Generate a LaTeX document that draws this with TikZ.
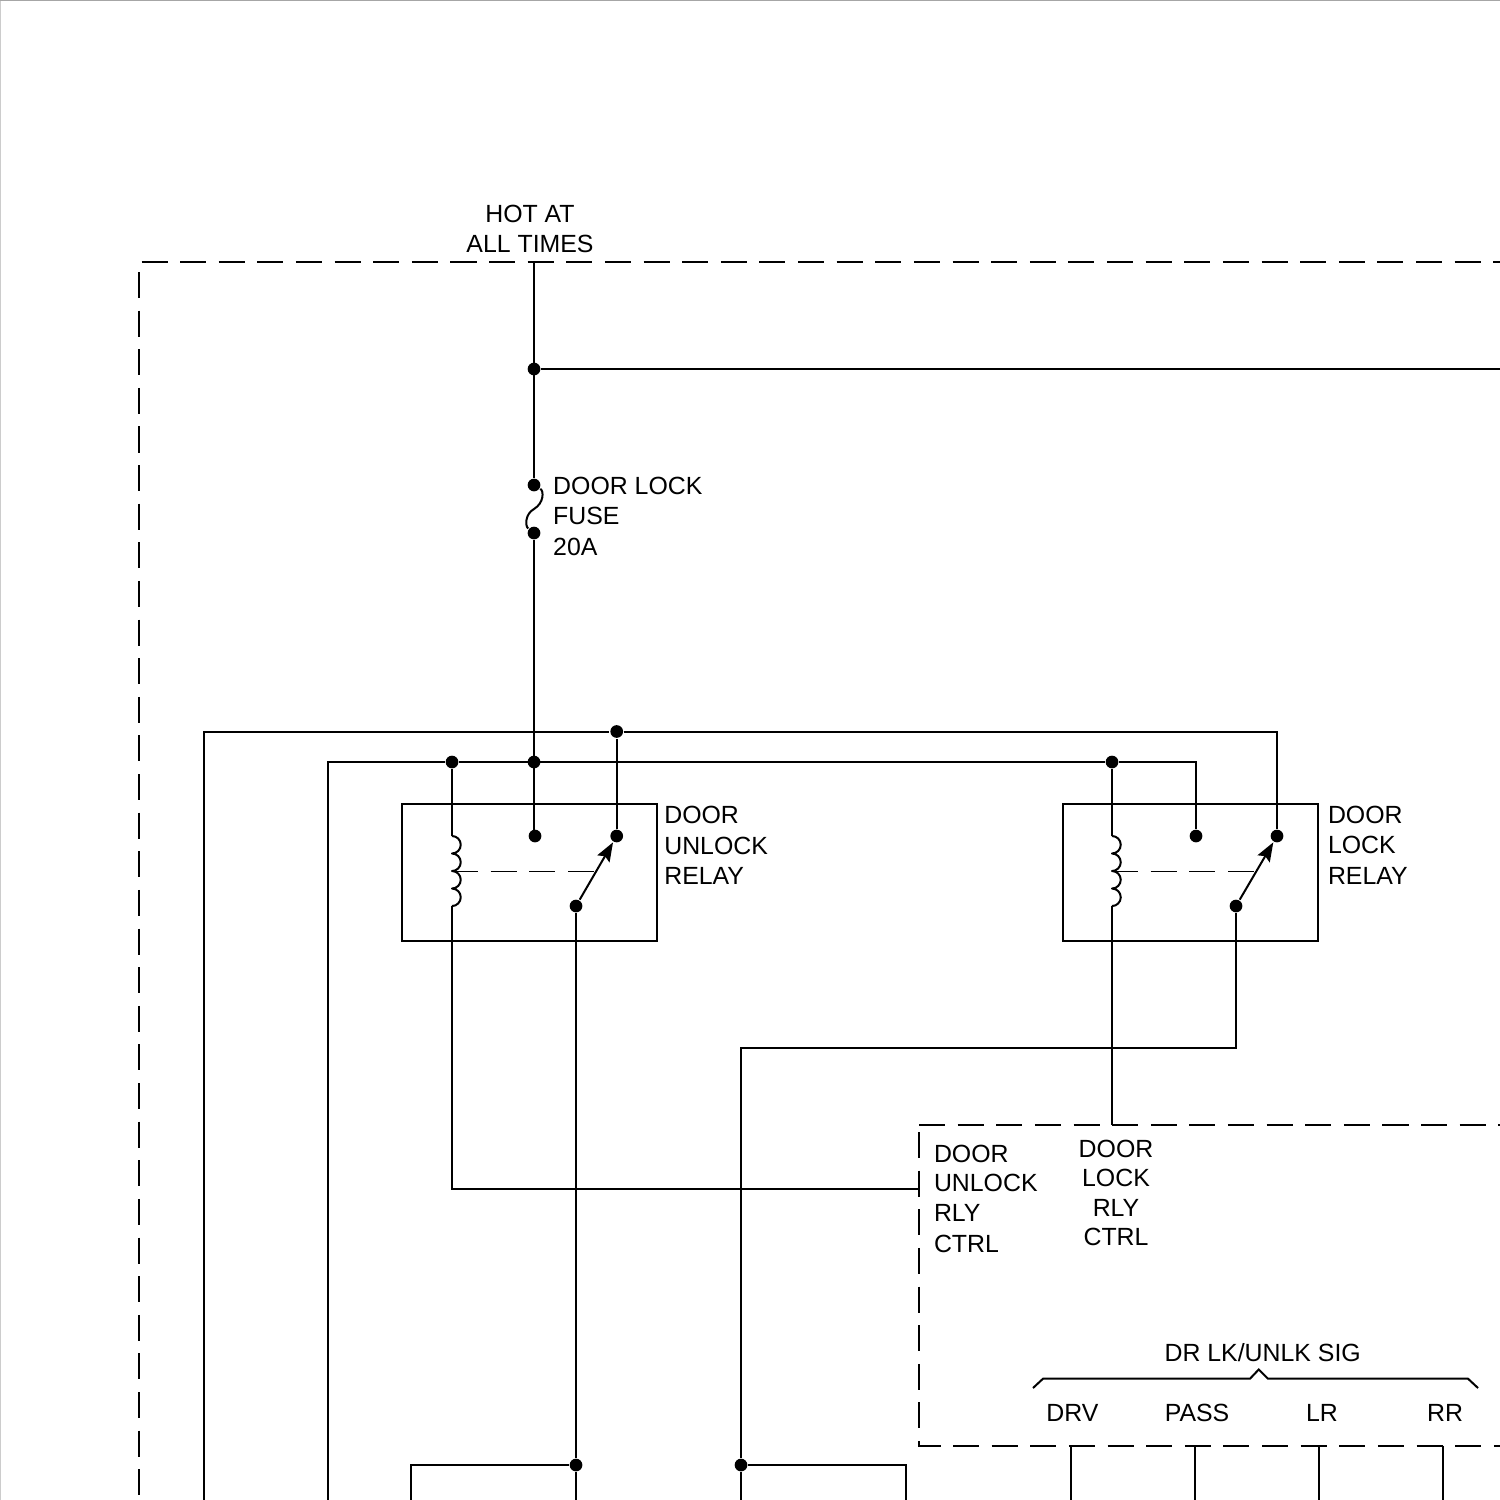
\documentclass[tikz,border=0pt]{standalone}
\usepackage{fontspec}
\setmainfont{Liberation Sans}
\usetikzlibrary{arrows.meta, positioning, backgrounds}

\begin{document}
\begin{tikzpicture}[x=0.01cm, y=-0.01cm, line width=0.57pt]
    \tikzstyle{dot} = [circle, fill=black, draw=none, minimum size=0.127cm, inner sep=0pt]
    \tikzstyle{relay} = [draw, anchor=north west, minimum width=2.555cm, minimum height=1.375cm, inner sep=0pt, outer sep=0pt]
    \tikzstyle{label} = [inner sep=0pt, align=left, font=\fontsize{7.07}{8.66}\selectfont]
    \tikzstyle{labelc} = [inner sep=0pt, align=center, font=\fontsize{7.07}{8.4}\selectfont]
    \tikzstyle{boundary} = [dash pattern=on 0.26cm off 0.126cm]
    \tikzstyle{link} = [line width=0.25pt, dash pattern=on 0.26cm off 0.127cm]
    \tikzstyle{contact} = [-{Stealth[length=0.19cm, width=0.14cm, inset=0.03cm]}]

    \useasboundingbox (0,0) rectangle (1500,1500);
    \draw[gray!40] (0,1500) -- (0,0);
    \draw[gray!70] (0,0) -- (1500,0);

    % Dashed boundaries
    \draw[boundary] (141.5,262) -- (1500,262);
    \draw[boundary] (139,272) -- (139,1500);
    \draw[boundary] (919,1124.5) -- (1500,1124.5);
    \draw[boundary] (919,1132) -- (919,1445.5) -- (1500,1445.5);

    % Relay boxes
    \node[relay] (unlockbox) at (401.5,803.5) {};
    \node[relay] (lockbox) at (1062.5,803.5) {};

    % Junctions
    \coordinate (hot) at (534,262);
    \node[dot] (feed) at (534,369) {};
    \node[dot] (fusetop) at (534,485) {};
    \node[dot, below of=fusetop, node distance=0.48cm] (fusebot) {};
    \node[dot] (fuseout) at (534,762) {};
    \node[dot] (coilfeedA) at (452,762) {};
    \node[dot] (coilfeedB) at (1112,762) {};
    \node[dot] (nofeed) at (616.7,731.5) {};

    % Unlock relay contacts
    \node[dot] (ncA) at (535,836) {};
    \node[dot] (noA) at (616.7,836) {};
    \node[dot] (armA) at (576,906) {};
    \coordinate (coilinA) at (452,836);
    \coordinate (coiloutA) at (452,906);

    % Lock relay contacts
    \node[dot] (ncB) at (1196,836) {};
    \node[dot] (noB) at (1277,836) {};
    \node[dot] (armB) at (1236,906) {};
    \coordinate (coilinB) at (1112,836);
    \coordinate (coiloutB) at (1112,906);

    % Bottom row
    \node[dot] (motorA) at (576,1465) {};
    \node[dot] (motorB) at (741,1465) {};
    \coordinate (ctrlA) at (919,1189);
    \coordinate (ctrlB) at (1112,1124.5);

    % Free ends at the edge of the sheet
    \coordinate (feedend) at (1500,369);
    \coordinate (busA) at (204,1500);
    \coordinate (busB) at (328,1500);
    \coordinate (legA) at (411,1500);
    \coordinate (legB) at (576,1500);
    \coordinate (legC) at (741,1500);
    \coordinate (legD) at (906,1500);

    % Signal wires
    \coordinate (drvtop) at (1071,1445.5);
    \coordinate[right of=drvtop, node distance=1.24cm] (passtop);
    \coordinate[right of=passtop, node distance=1.24cm] (lrtop);
    \coordinate[right of=lrtop, node distance=1.24cm] (rrtop);
    \coordinate (drvend) at (1071,1500);
    \coordinate[right of=drvend, node distance=1.24cm] (passend);
    \coordinate[right of=passend, node distance=1.24cm] (lrend);
    \coordinate[right of=lrend, node distance=1.24cm] (rrend);

    % Wires
    \draw (hot) -- (fusetop);
    \draw (feed) -- (feedend);
    \draw (fusetop) .. controls (544,491) and (544,503) .. (534,509) .. controls (525,514) and (525,526) .. (fusebot);
    \draw (fusebot) -- (fusebot |- ncA);
    \draw (busA) |- (nofeed) -| (noB);
    \draw (nofeed) -- (noA);
    \draw (busB) |- (coilfeedA) -- (coilfeedB) -| (ncB);
    \draw (coilfeedA) -- (coilinA);
    \draw (coilfeedB) -- (coilinB);
    \draw (coiloutA) |- (ctrlA);
    \draw (coiloutB) -- (ctrlB);
    \draw (armA) -- (motorA) -- (legB);
    \draw (motorA) -| (legA);
    \draw (armB) |- (741,1048) -- (motorB) -- (legC);
    \draw (motorB) -| (legD);
    \draw (drvtop) -- (drvend);
    \draw (passtop) -- (passend);
    \draw (lrtop) -- (lrend);
    \draw (rrtop) -- (rrend);

    % Coils, links and switch arms
    \foreach \coil in {coilinA, coilinB} {
        \draw[line join=round] (\coil) arc[start angle=90, end angle=-90, radius=0.0875cm]
            arc[start angle=90, end angle=-90, radius=0.0875cm]
            arc[start angle=90, end angle=-90, radius=0.0875cm]
            arc[start angle=90, end angle=-90, radius=0.0875cm];
    }
    \draw[link] (452,871) -- (595,871);
    \draw[link] (1112,871) -- (1255,871);
    \draw[contact] (armA) -- (noA);
    \draw[contact] (armB) -- (noB);

    % Bracket
    \draw (1033,1388) -- (1043,1378.7) -- (1250,1378.7) -- (1258.7,1369.5) -- (1268,1378.7) -- (1468,1378.7) -- (1478,1388);

    % Labels
    \node[labelc] (hotlabel) at (530,229) {HOT AT\\ALL TIMES};
    \node[label, anchor=west] (fuselabel) at (552.2,516) {DOOR LOCK\\FUSE\\20A};
    \node[label, anchor=west] (unlocklabel) at (663.3,845.5) {DOOR\\UNLOCK\\RELAY};
    \node[label, anchor=west] (locklabel) at (1327,845) {DOOR\\LOCK\\RELAY};
    \node[label, anchor=west] (unlockctrl) at (933,1198.7) {DOOR\\[-0.4pt]UNLOCK\\RLY\\CTRL};
    \node[labelc] (lockctrl) at (1116,1193) {DOOR\\LOCK\\RLY\\CTRL};
    \node[labelc] (siglabel) at (1262.7,1352.4) {DR LK/UNLK SIG};
    \node[labelc] (drvlabel) at (1072.5,1413) {DRV};
    \node[labelc] (passlabel) at (1197,1413) {PASS};
    \node[labelc] (lrlabel) at (1322,1413) {LR};
    \node[labelc] (rrlabel) at (1445,1413) {RR};
\end{tikzpicture}
\end{document}
